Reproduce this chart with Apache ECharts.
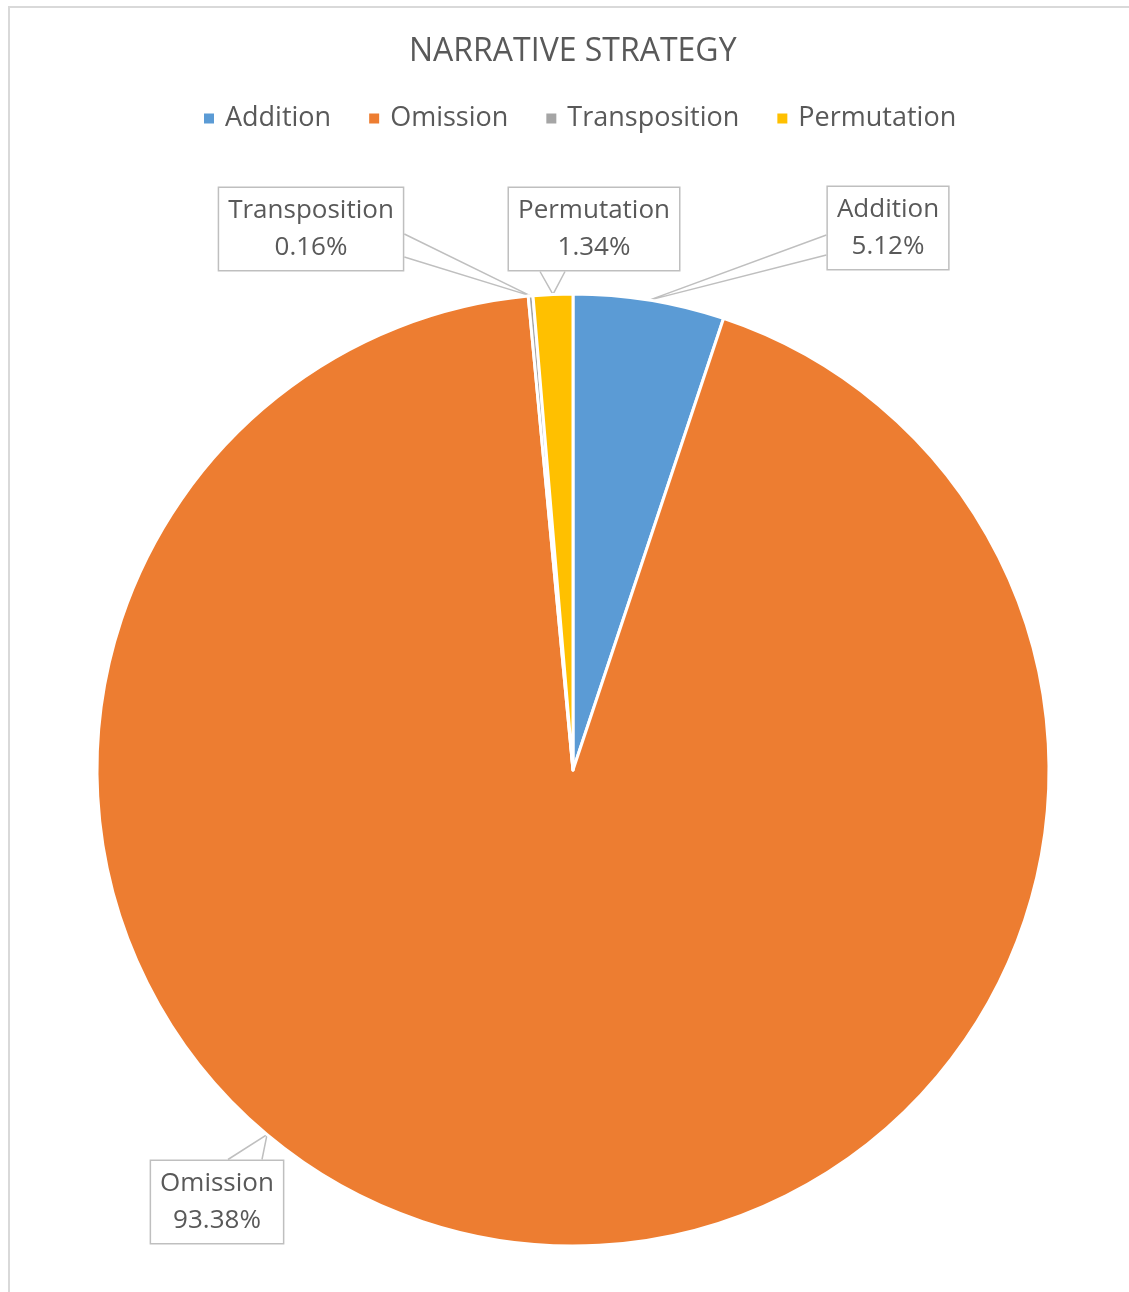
<!DOCTYPE html>
<html>
<head>
<meta charset="utf-8">
<title>Narrative Strategy</title>
<script src="https://cdn.jsdelivr.net/npm/echarts@6/dist/echarts.min.js"></script>
<style>
  html, body { margin: 0; padding: 0; background: #fff; }
  #chart { width: 1129px; height: 1292px; }
</style>
</head>
<body>
<div id="chart"></div>
<script>
// data
const categories = ['Addition', 'Omission', 'Transposition', 'Permutation'];
const shares = [5.12, 93.38, 0.16, 1.34];
const colors = ['#5B9BD5', '#ED7D31', '#A5A5A5', '#FFC000'];

// pie geometry
const CENTER = [573, 770];
const RADIUS = 476;

// where each callout box sits (offset of box centre from pie centre),
// which side of the box the pointer leaves from and the two base offsets
const callouts = [
  { dx: 315, dy: -542, side: 'left', base: [7, 27] },
  { dx: -356, dy: 432, side: 'top', base: [11, 45], anchorDeg: 220 },
  { dx: -262, dy: -541, side: 'right', base: [5, 28] },
  { dx: 21, dy: -541, side: 'bottom', base: [-54, -29] }
];

const chart = echarts.init(document.getElementById('chart'));
const FONT = '"Open Sans", "Noto Sans", sans-serif';

function edgePoint(deg) {
  const a = deg * Math.PI / 180;
  return [CENTER[0] + RADIUS * Math.sin(a), CENTER[1] - RADIUS * Math.cos(a)];
}

const option = {
  backgroundColor: '#fff',
  color: colors,
  title: {
    text: 'NARRATIVE STRATEGY',
    left: 404,
    top: 31,
    textStyle: { color: '#595959', fontSize: 32, fontWeight: 'normal', fontFamily: FONT }
  },
  legend: {
    data: categories,
    left: 197,
    top: 100,
    icon: 'rect',
    itemWidth: 12,
    itemHeight: 12,
    itemGap: 36,
    textStyle: { color: '#595959', fontSize: 27, fontFamily: FONT, padding: [0, 0, 0, 5] }
  },
  graphic: [{
    type: 'rect',
    silent: true,
    shape: { x: 9, y: 7, width: 1300, height: 1400 },
    style: { fill: 'none', stroke: '#d9d9d9', lineWidth: 2 }
  }],
  series: [{
    type: 'pie',
    center: CENTER,
    radius: RADIUS,
    startAngle: 90,
    clockwise: true,
    avoidLabelOverlap: false,
    itemStyle: { borderColor: '#fff', borderWidth: 3 },
    emphasis: { scale: false },
    label: {
      show: true,
      position: 'outside',
      formatter: '{b}\n{c}%',
      color: '#595959',
      fontSize: 26,
      lineHeight: 37,
      fontFamily: FONT,
      align: 'center',
      backgroundColor: '#fff',
      borderColor: '#bfbfbf',
      borderWidth: 1.5,
      padding: [4, 9, 4, 9]
    },
    labelLine: {
      show: true,
      length: 10,
      length2: 10,
      lineStyle: { color: '#bfbfbf', width: 1.5 }
    },
    labelLayout: function (params) {
      const c = callouts[params.dataIndex];
      const x = CENTER[0] + c.dx;
      const y = CENTER[1] + c.dy;
      const w = params.labelRect.width;
      const h = params.labelRect.height;
      let apex = params.labelLinePoints ? params.labelLinePoints[0] : null;
      if (c.anchorDeg !== undefined || !apex) {
        apex = edgePoint(c.anchorDeg !== undefined ? c.anchorDeg : 0);
      }
      let a, b;
      if (c.side === 'left') {
        a = [x - w / 2, y + c.base[0]]; b = [x - w / 2, y + c.base[1]];
      } else if (c.side === 'right') {
        a = [x + w / 2, y + c.base[0]]; b = [x + w / 2, y + c.base[1]];
      } else if (c.side === 'top') {
        a = [x + c.base[0], y - h / 2]; b = [x + c.base[1], y - h / 2];
      } else {
        a = [x + c.base[0], y + h / 2]; b = [x + c.base[1], y + h / 2];
      }
      return {
        x: x,
        y: y,
        align: 'center',
        verticalAlign: 'middle',
        labelLinePoints: [a, apex, b]
      };
    },
    data: categories.map(function (name, i) {
      return { name: name, value: shares[i] };
    })
  }]
};

chart.setOption(option);
</script>
</body>
</html>
